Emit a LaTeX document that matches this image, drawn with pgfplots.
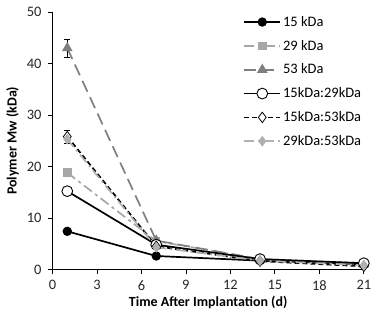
\documentclass[border={3bp 4bp 0.5bp 4bp}]{standalone}
\usepackage{pgfplots}
\pgfplotsset{compat=1.18}
\usepackage{fontspec}
\setmainfont{Carlito}
\definecolor{g29}{HTML}{A6A6A6}
\definecolor{g53}{HTML}{7F7F7F}
\definecolor{g2953}{HTML}{B0B0B0}
\begin{document}
\begin{tikzpicture}
\begin{axis}[
  scale only axis,
  width=311bp, height=257bp,
  xmin=0, xmax=21, ymin=0, ymax=50,
  xtick={0,3,...,21}, ytick={0,10,...,50},
  axis x line*=bottom, axis y line*=left,
  axis line style={black, line width=0.8pt, -},
  tick align=outside, tick style={black, line width=0.8pt}, major tick length=4.5bp,
  /pgf/number format/assume math mode=true,
  tick label style={font=\fontsize{14.5}{16}\selectfont, text=black!85},
  xticklabel style={yshift=-3bp},
  yticklabel style={xshift=-3bp},
  xlabel={\textbf{Time After Implantation (d)}},
  ylabel={\textbf{Polymer Mw (kDa)}},
  label style={font=\fontsize{14}{16}\selectfont},
  xlabel style={at={([yshift=-23bp]axis description cs:0.5,0)}, anchor=north},
  ylabel style={at={([xshift=-30bp]axis description cs:0,0.5)}, anchor=south},
  legend style={draw=none, fill=none, at={(rel axis cs:0.603,1.0)}, anchor=north west,
    font=\fontsize{14.5}{16}\selectfont, row sep=8.3bp, cells={anchor=west}},
  legend image code/.code={\draw[mark repeat=2,mark phase=2] plot coordinates {(0bp,0bp)(18bp,0bp)(36bp,0bp)};},
  error bars/y dir=both, error bars/y explicit,
  error bars/error bar style={black, line width=0.6pt, solid},
  error bars/error mark options={rotate=90, mark size=3bp, black, line width=0.6pt, solid},
]
\addplot[black, line width=1.7pt, mark=*, mark size=3.8bp, mark options={solid}]
  coordinates {(1,7.4) (7,2.6) (14,1.7) (21,1.0)};
\addlegendentry{15 kDa}
\addplot[g29, line width=1.7pt, dash pattern=on 10bp off 4bp on 3bp off 4bp, mark=square*, mark size=3.4bp, mark options={solid}]
  coordinates {(1,18.8) (7,5.5) (14,2.0) (21,1.2)};
\addlegendentry{29 kDa}
\addplot[g53, line width=1.7pt, dash pattern=on 12bp off 6bp, mark=triangle*, mark size=4.5bp, mark options={solid}]
  coordinates {(1,43.0) +- (0,1.8) (7,5.6) +- (0,0) (14,2.0) +- (0,0) (21,1.0) +- (0,0)};
\addlegendentry{53 kDa}
\addplot[black, line width=1.7pt, mark=*, mark size=5.4bp, mark options={solid, fill=white, draw=black, line width=0.9pt}]
  coordinates {(1,15.2) (7,4.8) (14,2.0) (21,1.2)};
\addlegendentry{15kDa:29kDa}
\addplot[black, line width=1.7pt, dash pattern=on 5bp off 3bp, mark=diamond*, mark size=5.2bp, mark options={solid, fill=white, draw=black, line width=0.8pt}]
  coordinates {(1,25.8) +- (0,1.3) (7,4.5) +- (0,0) (14,1.6) +- (0,0) (21,0.6) +- (0,0)};
\addlegendentry{15kDa:53kDa}
\addplot[g2953, line width=1.7pt, dash pattern=on 10bp off 4bp on 2bp off 4bp, mark=diamond*, mark size=4bp, mark options={solid, fill=g2953, draw=g2953}]
  coordinates {(1,25.3) (7,4.3) (14,1.7) (21,0.8)};
\addlegendentry{29kDa:53kDa}
\end{axis}
\end{tikzpicture}
\end{document}
